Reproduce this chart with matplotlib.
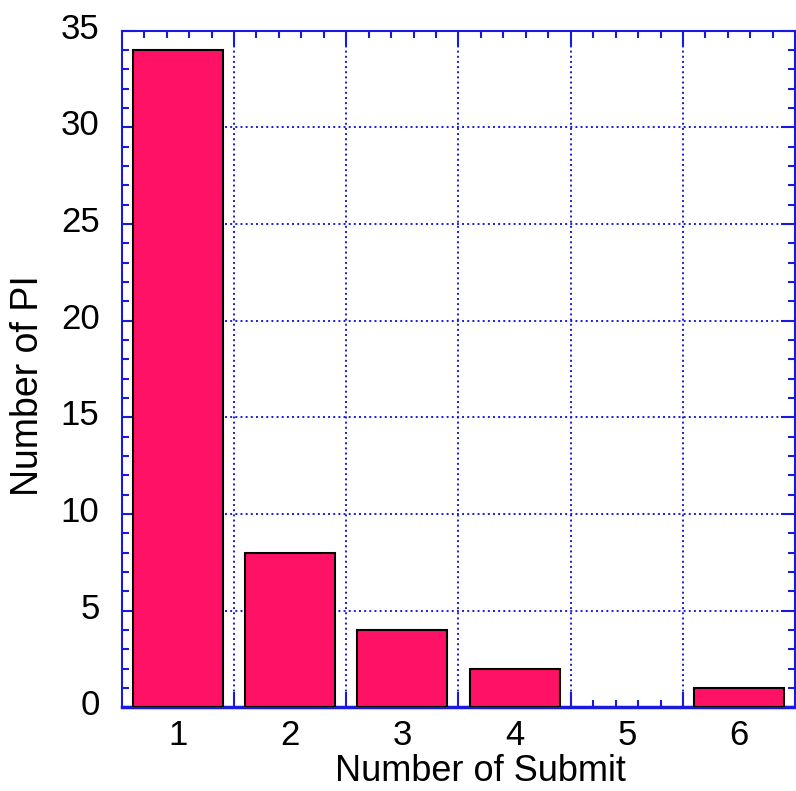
import numpy as np
from matplotlib import pyplot as plt
from matplotlib.ticker import MultipleLocator, FixedLocator
from matplotlib.transforms import ScaledTranslation

submits = [1, 2, 3, 4, 5, 6]
pi_counts = [34, 8, 4, 2, 0, 1]

plt.rcParams['font.family'] = ['Liberation Sans', 'DejaVu Sans']

blue = '#1a1adf'

fig = plt.figure(figsize=(7.96, 7.91), dpi=100)
ax = fig.add_axes([0.153, 0.106, 0.846, 0.855])

bars = ax.bar(submits, pi_counts, width=0.8, color='#ff1166', edgecolor='black', linewidth=1.5, zorder=3)
for b, v in zip(bars, pi_counts):
    if v == 0:
        b.set_visible(False)

ax.set_xlim(0.5, 6.5)
ax.set_ylim(0, 35)

# grid on bin boundaries, labels at bin centres
ax.xaxis.set_major_locator(FixedLocator([1.5, 2.5, 3.5, 4.5, 5.5]))
ax.xaxis.set_minor_locator(FixedLocator([s + d for s in submits for d in (-0.3, -0.1, 0.1, 0.3)]))
ax.set_xticklabels([])
for s in submits:
    ax.text(s, -0.0562, str(s), ha='center', va='baseline', fontsize=25,
            transform=ax.get_xaxis_transform())

ax.yaxis.set_major_locator(MultipleLocator(5))
ax.yaxis.set_minor_locator(MultipleLocator(1))

ax.grid(True, which='major', color=blue, linestyle=':', linewidth=1.4, zorder=0)

ax.tick_params(which='both', direction='in', top=True, right=True, color=blue, width=1.5)
ax.tick_params(which='major', length=10, pad=16)
ax.tick_params(axis='y', labelsize=25)
ax.tick_params(which='minor', length=5)
ax.tick_params(axis='x', which='major', length=11)

shift = ScaledTranslation(0, 5 / 100, fig.dpi_scale_trans)
for lbl in ax.get_yticklabels():
    lbl.set_transform(lbl.get_transform() + shift)

for sp in ax.spines.values():
    sp.set_color(blue)
    sp.set_linewidth(1.5)
ax.spines['bottom'].set_linewidth(2.5)

fig.text(0.604, 0.0125, 'Number of Submit', ha='center', va='baseline', fontsize=26)
fig.text(0.035, 0.513, 'Number of PI', ha='center', va='center', rotation=90, fontsize=27)

fig.savefig('out.png', dpi=100)
